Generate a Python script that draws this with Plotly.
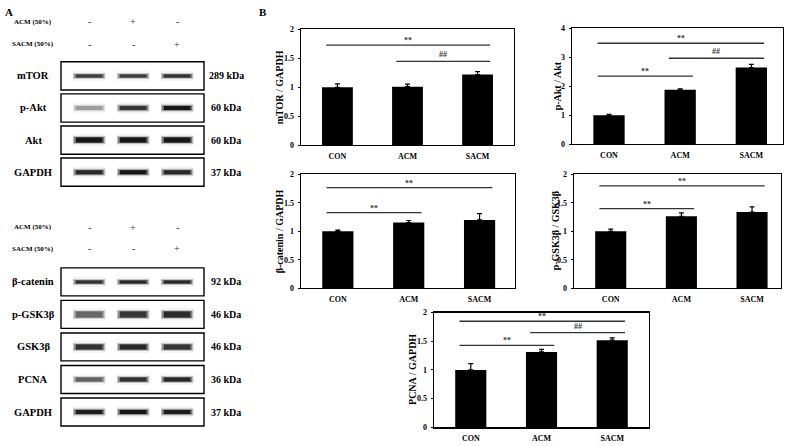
import plotly.graph_objects as go

W, H = 789, 446
FONT = "Liberation Serif"

# ---------------- data ----------------
groups = ["CON", "ACM", "SACM"]

mtor_vals = [1.00, 1.01, 1.22]
mtor_err = [0.06, 0.045, 0.05]
pakt_vals = [1.00, 1.88, 2.65]
pakt_err = [0.03, 0.035, 0.11]
bcat_vals = [1.00, 1.155, 1.20]
bcat_err = [0.02, 0.035, 0.11]
pgsk_vals = [1.00, 1.265, 1.34]
pgsk_err = [0.04, 0.06, 0.09]
pcna_vals = [1.00, 1.315, 1.52]
pcna_err = [0.11, 0.045, 0.04]

mtor_sig = [(0, 2, 1.73, "**"), (1, 2, 1.45, "##")]
pakt_sig = [(0, 2, 3.49, "**"), (1, 2, 2.97, "##"), (0, 1, 2.35, "**")]
bcat_sig = [(0, 2, 1.77, "**"), (0, 1, 1.33, "**")]
pgsk_sig = [(0, 2, 1.80, "**"), (0, 1, 1.40, "**")]
pcna_sig = [(0, 2, 1.85, "**"), (1, 2, 1.65, "##"), (0, 1, 1.43, "**")]

titles = ["mTOR / GAPDH", "p-Akt / Akt", "β-catenin / GAPDH", "p-GSK3β / GSK3β", "PCNA / GAPDH"]
ticks_2 = [0, 0.5, 1, 1.5, 2]
ticks_2_text = ["0", "0.5", "1", "1.5", "2"]
ticks_4 = [0, 1, 2, 3, 4]
ticks_4_text = ["0", "1", "2", "3", "4"]

# western blot panel
acm_signs = ["-", "+", "-"]
sacm_signs = ["-", "-", "+"]
blot_top_names = ["mTOR", "p-Akt", "Akt", "GAPDH"]
blot_top_kda = ["289 kDa", "60 kDa", "60 kDa", "37 kDa"]
blot_top_int = [[0.80, 0.80, 0.84], [0.40, 0.82, 0.95], [0.95, 0.95, 0.95], [0.88, 0.95, 0.88]]
blot_bot_names = ["β-catenin", "p-GSK3β", "GSK3β", "PCNA", "GAPDH"]
blot_bot_kda = ["92 kDa", "46 kDa", "46 kDa", "36 kDa", "37 kDa"]
blot_bot_int = [[0.84, 0.88, 0.88], [0.62, 0.82, 0.86], [0.84, 0.88, 0.82], [0.64, 0.84, 0.88], [0.92, 0.96, 0.92]]
blot_top_thick = [3, 4, 5, 4]
blot_bot_thick = [3, 6, 5, 4, 4]

# ---------------- layout helpers ----------------
def px_x(a, b):
    return [a / W, b / W]

def px_y(top, bottom):
    return [1 - bottom / H, 1 - top / H]

panels = [
    dict(vals=mtor_vals, err=mtor_err, sig=mtor_sig, xd=px_x(301, 514), yd=px_y(26, 144), xr=[-0.52, 2.52], tx=279, ymax=2, tv=ticks_2, tt=ticks_2_text),
    dict(vals=pakt_vals, err=pakt_err, sig=pakt_sig, xd=px_x(572, 783), yd=px_y(25, 143), xr=[-0.52, 2.445], tx=557, ymax=4, tv=ticks_4, tt=ticks_4_text),
    dict(vals=bcat_vals, err=bcat_err, sig=bcat_sig, xd=px_x(301, 515), yd=px_y(174, 290), xr=[-0.52, 2.5], tx=279, ymax=2, tv=ticks_2, tt=ticks_2_text),
    dict(vals=pgsk_vals, err=pgsk_err, sig=pgsk_sig, xd=px_x(574, 781), yd=px_y(174, 290), xr=[-0.52, 2.41], tx=555, ymax=2, tv=ticks_2, tt=ticks_2_text),
    dict(vals=pcna_vals, err=pcna_err, sig=pcna_sig, xd=px_x(434, 649), yd=px_y(315, 432), xr=[-0.52, 2.52], tx=413, ymax=2, tv=ticks_2, tt=ticks_2_text),
]

fig = go.Figure()
layout = dict(
    width=W, height=H, margin=dict(l=0, r=0, t=0, b=0),
    paper_bgcolor="white", plot_bgcolor="white", showlegend=False,
    font=dict(family=FONT, color="black"),
)
annotations = []
shapes = []

xidx = list(range(len(groups)))
for k, p in enumerate(panels):
    n = k + 1
    xa = "x" if n == 1 else f"x{n}"
    ya = "y" if n == 1 else f"y{n}"
    fig.add_trace(go.Bar(
        x=xidx, y=p["vals"], width=0.44, marker=dict(color="black", line=dict(width=0)),
        error_y=dict(type="data", array=p["err"], arrayminus=[0] * 3, symmetric=False,
                     color="black", thickness=1.2, width=2.5),
        xaxis=xa, yaxis=ya, hoverinfo="skip",
    ))
    for (i, j, yv, lab) in p["sig"]:
        fig.add_trace(go.Scatter(
            x=[i - 0.16, j + 0.18], y=[yv, yv], mode="lines",
            line=dict(color="#333333", width=1.3), xaxis=xa, yaxis=ya, hoverinfo="skip",
        ))
        annotations.append(dict(
            x=(i + j) / 2 + 0.01, y=yv, xref=xa, yref=ya, text=f"<b>{lab}</b>",
            showarrow=False, yanchor="bottom", yshift=(-2 if lab == "**" else 0),
            font=dict(family=FONT, size=8, color="#333333"),
        ))
    axkey = "xaxis" if n == 1 else f"xaxis{n}"
    aykey = "yaxis" if n == 1 else f"yaxis{n}"
    layout[axkey] = dict(
        domain=p["xd"], anchor=ya, range=p["xr"], tickmode="array", tickvals=xidx,
        ticktext=[f"<b>{g}</b>" for g in groups], ticks="", showline=True, linecolor="black",
        linewidth=1.3, mirror=True, showgrid=False, zeroline=False, ticklabelstandoff=3,
        tickfont=dict(family=FONT, size=8, color="black"), fixedrange=True,
    )
    layout[aykey] = dict(
        domain=p["yd"], anchor=xa, range=[0, p["ymax"]], tickmode="array", tickvals=p["tv"],
        ticktext=[f"<b>{t}</b>" for t in p["tt"]], ticks="outside", ticklen=2, tickcolor="black",
        showline=True, linecolor="black", linewidth=1.3, mirror=True,
        showgrid=False, zeroline=False, ticklabelstandoff=2,
        tickfont=dict(family=FONT, size=8, color="black"), fixedrange=True,
    )
    ymid = (p["yd"][0] + p["yd"][1]) / 2
    annotations.append(dict(
        x=p["tx"] / W, y=ymid, xref="paper", yref="paper", text=f"<b>{titles[k]}</b>",
        textangle=-90, showarrow=False, xanchor="center", yanchor="middle",
        font=dict(family=FONT, size=10, color="black"),
    ))

# ---------------- western blot panel ----------------
blot_xd = px_x(61, 204)
blot_groups = [
    dict(names=blot_top_names, kda=blot_top_kda, inten=blot_top_int, thick=blot_top_thick,
         yd=px_y(57, 188), xa="x6", ya="y6", acm_y=18, sacm_y=41, half=0.44),
    dict(names=blot_bot_names, kda=blot_bot_kda, inten=blot_bot_int, thick=blot_bot_thick,
         yd=px_y(267, 433), xa="x7", ya="y7", acm_y=228, sacm_y=250, half=0.43),
]
lanes = [0, 1, 2]
for g in blot_groups:
    nrow = len(g["names"])
    layout["xaxis" + g["xa"][1:]] = dict(domain=blot_xd, anchor=g["ya"], range=[-0.64, 2.61],
                                        visible=False, fixedrange=True)
    layout["yaxis" + g["ya"][1:]] = dict(domain=g["yd"], anchor=g["xa"], range=[nrow - 0.5, -0.5],
                                        visible=False, fixedrange=True)
    for r in range(nrow):
        shapes.append(dict(type="rect", xref=g["xa"] + " domain", yref=g["ya"], x0=0, x1=1,
                           y0=r - g["half"], y1=r + g["half"], line=dict(color="black", width=1.4),
                           fillcolor="white", layer="below"))
        for ln in lanes:
            inten = g["inten"][r][ln]
            gv = int(round(255 * (1 - inten)))
            col = f"rgb({gv},{gv},{gv})"
            th = g["thick"][r]
            # faint smear + soft edge + dark core to mimic a blurred band
            for (ext, dw, op) in [(0.36, 7, 0.05), (0.37, 3, 0.22), (0.34, 1, 0.45), (0.30, 0, 0.9)]:
                fig.add_trace(go.Scatter(x=[ln - ext, ln + ext], y=[r, r], mode="lines",
                                         line=dict(color=col, width=th + dw), opacity=op,
                                         xaxis=g["xa"], yaxis=g["ya"], hoverinfo="skip"))
        annotations.append(dict(x=33 / W, y=r, xref="paper", yref=g["ya"],
                                text=f"<b>{g['names'][r]}</b>", showarrow=False,
                                xanchor="center", yanchor="middle",
                                font=dict(family=FONT, size=10.5, color="black")))
        annotations.append(dict(x=226 / W, y=r, xref="paper", yref=g["ya"],
                                text=f"<b>{g['kda'][r]}</b>", showarrow=False,
                                xanchor="center", yanchor="middle",
                                font=dict(family=FONT, size=10, color="black")))
    annotations.append(dict(x=33 / W, y=1 - g["acm_y"] / H, xref="paper", yref="paper",
                            text="<b>ACM (50%)</b>", showarrow=False, xanchor="center", yanchor="middle",
                            font=dict(family=FONT, size=7, color="black")))
    annotations.append(dict(x=33 / W, y=1 - g["sacm_y"] / H, xref="paper", yref="paper",
                            text="<b>SACM (50%)</b>", showarrow=False, xanchor="center", yanchor="middle",
                            font=dict(family=FONT, size=7, color="black")))
    for ln in lanes:
        annotations.append(dict(x=ln, y=1 - g["acm_y"] / H, xref=g["xa"], yref="paper",
                                text=acm_signs[ln], showarrow=False, xanchor="center", yanchor="middle",
                                font=dict(family=FONT, size=10, color="#333333")))
        annotations.append(dict(x=ln, y=1 - g["sacm_y"] / H, xref=g["xa"], yref="paper",
                                text=sacm_signs[ln], showarrow=False, xanchor="center", yanchor="middle",
                                font=dict(family=FONT, size=10, color="#333333")))

# panel letters
annotations.append(dict(x=3 / W, y=1 - 8 / H, xref="paper", yref="paper", text="<b>A</b>",
                        showarrow=False, xanchor="left", yanchor="middle",
                        font=dict(family=FONT, size=11, color="black")))
annotations.append(dict(x=257 / W, y=1 - 8 / H, xref="paper", yref="paper", text="<b>B</b>",
                        showarrow=False, xanchor="left", yanchor="middle",
                        font=dict(family=FONT, size=11, color="black")))

layout["annotations"] = annotations
layout["shapes"] = shapes
fig.update_layout(**layout)
fig.write_html("out.html", config={"displayModeBar": False, "staticPlot": True})

# remove the browser's default body margin so the figure fills the window exactly
with open("out.html", "r", encoding="utf-8") as f:
    html = f.read()
html = html.replace("<body>", '<body style="margin:0;padding:0;overflow:hidden">', 1)
with open("out.html", "w", encoding="utf-8") as f:
    f.write(html)
